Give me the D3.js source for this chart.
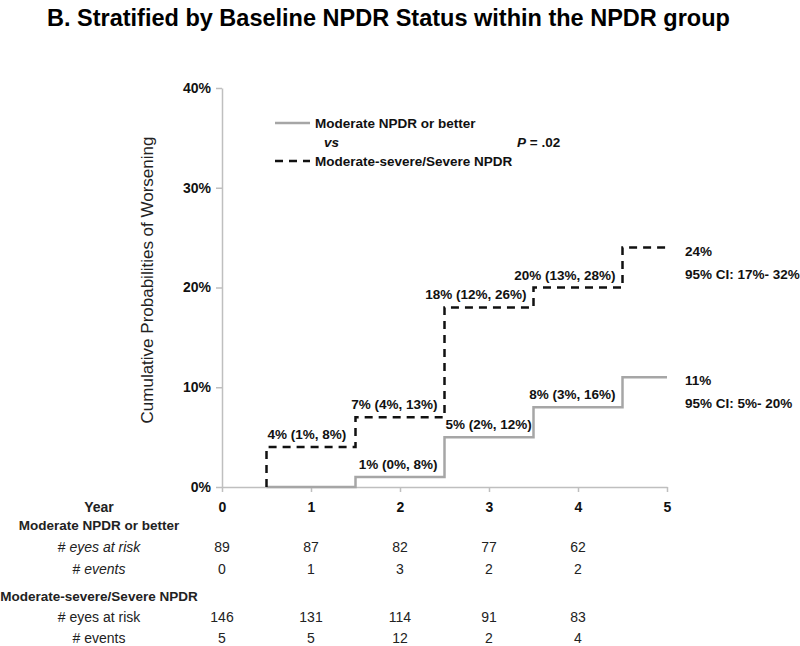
<!DOCTYPE html>
<html>
<head>
<meta charset="utf-8">
<style>
    body { margin: 0; background: white; }
    svg { display: block; font-family: "Liberation Sans", Arial, Helvetica, sans-serif; }
    .axis path, .axis line { stroke: #bfbfbf; stroke-width: 1.5; }
    .axis text { font-size: 14px; font-weight: bold; fill: #111; }
    .lbl { font-size: 13.5px; font-weight: bold; fill: #111; }
    .tbl { font-size: 14px; fill: #222; }
</style>
</head>
<body>
<svg width="800" height="646"></svg>

<script src="https://d3js.org/d3.v7.min.js"></script>
<script>
    // step times (years) where the curves jump
    let stepTimes = [0.5, 1.5, 2.5, 3.5, 4.5]

    // Moderate NPDR or better (solid)
    let modEst = [0, 1, 5, 8, 11]
    let modLow = [0, 0, 2, 3, 5]
    let modHigh = [0, 8, 12, 16, 20]

    // Moderate-severe/Severe NPDR (dashed)
    let sevEst = [4, 7, 18, 20, 24]
    let sevLow = [1, 4, 12, 13, 17]
    let sevHigh = [8, 13, 26, 28, 32]

    let years = [0, 1, 2, 3, 4, 5]
    let yTicks = [0, 0.1, 0.2, 0.3, 0.4]

    // numbers at risk table
    let modAtRisk = [89, 87, 82, 77, 62]
    let modEvents = [0, 1, 3, 2, 2]
    let sevAtRisk = [146, 131, 114, 91, 83]
    let sevEvents = [5, 5, 12, 2, 4]

    let svg = d3.select("svg")

    let x = d3.scaleLinear().domain([0, 5]).range([222, 667])
    let y = d3.scaleLinear().domain([0, 0.4]).range([487, 88])

    // title
    svg.append("text")
        .attr("x", 47).attr("y", 26)
        .style("font-size", "23.5px").style("font-weight", "bold")
        .text("B. Stratified by Baseline NPDR Status within the NPDR group")

    // axes
    svg.append("g")
        .attr("class", "axis")
        .attr("transform", "translate(222,0)")
        .call(d3.axisLeft(y).tickValues(yTicks).tickFormat(d3.format(".0%")).tickSize(6).tickSizeOuter(0).tickPadding(5))

    svg.append("g")
        .attr("class", "axis")
        .attr("transform", "translate(0,487)")
        .call(d3.axisBottom(x).tickValues(years).tickFormat(d3.format("d")).tickSize(5).tickSizeOuter(0).tickPadding(10))

    svg.append("text")
        .attr("transform", "translate(153,280) rotate(-90)")
        .attr("text-anchor", "middle")
        .style("font-size", "17px").style("fill", "#222")
        .text("Cumulative Probabilities of Worsening")

    // build step points: start at 0 at first time, finish at year 5
    function stepPoints(est) {
        let pts = [[stepTimes[0], 0]]
        est.forEach((v, i) => pts.push([stepTimes[i], v / 100]))
        pts.push([5, est[est.length - 1] / 100])
        return pts
    }

    let line = d3.line()
        .x(d => x(d[0]))
        .y(d => y(d[1]))
        .curve(d3.curveStepAfter)

    svg.append("path")
        .attr("d", line(stepPoints(modEst)))
        .style("fill", "none")
        .style("stroke", "#a6a6a6")
        .style("stroke-width", 2.5)

    svg.append("path")
        .attr("d", line(stepPoints(sevEst)))
        .style("fill", "none")
        .style("stroke", "#111")
        .style("stroke-width", 2.5)
        .style("stroke-dasharray", "8,6")

    // step labels
    let fmt = (e, l, h) => e + "% (" + l + "%, " + h + "%)"
    let sevAnchor = ["start", "end", "end", "end"]
    let modAnchor = [null, "end", "start", "end"]

    function stepLabels(est, low, high, anchors) {
        anchors.forEach((a, i) => {
            if (!a) return
            let xp = a == "start" ? x(stepTimes[i]) + 1 : x(stepTimes[i + 1]) - 7
            svg.append("text")
                .attr("class", "lbl")
                .attr("x", xp)
                .attr("y", y(est[i] / 100) - 8)
                .attr("text-anchor", a)
                .text(fmt(est[i], low[i], high[i]))
        })
        // final estimate with CI, to the right of the curve end
        let last = est.length - 1
        let g = svg.append("text").attr("class", "lbl")
            .attr("x", 685).attr("y", y(est[last] / 100) + 8)
        g.append("tspan").text(est[last] + "%")
        g.append("tspan").attr("x", 685).attr("dy", 23)
            .text("95% CI: " + low[last] + "%- " + high[last] + "%")
    }
    stepLabels(sevEst, sevLow, sevHigh, sevAnchor)
    stepLabels(modEst, modLow, modHigh, modAnchor)

    // legend
    svg.append("line")
        .attr("x1", 275).attr("x2", 310).attr("y1", 123).attr("y2", 123)
        .style("stroke", "#a6a6a6").style("stroke-width", 2.5)
    svg.append("line")
        .attr("x1", 275).attr("x2", 310).attr("y1", 161).attr("y2", 161)
        .style("stroke", "#111").style("stroke-width", 2.5).style("stroke-dasharray", "8,6")
    svg.append("text").attr("class", "lbl").attr("x", 315).attr("y", 128).text("Moderate NPDR or better")
    svg.append("text").attr("class", "lbl").attr("x", 324).attr("y", 147)
        .style("font-style", "italic").text("vs")
    svg.append("text").attr("class", "lbl").attr("x", 315).attr("y", 166).text("Moderate-severe/Severe NPDR")
    let p = svg.append("text").attr("class", "lbl").attr("x", 517).attr("y", 147)
    p.append("tspan").style("font-style", "italic").text("P")
    p.append("tspan").text(" = .02")

    // number at risk table
    let labX = 99
    svg.append("text").attr("class", "tbl").attr("x", labX).attr("y", 512)
        .attr("text-anchor", "middle").style("font-weight", "bold").text("Year")
    svg.append("text").attr("class", "tbl").attr("x", labX).attr("y", 530)
        .attr("text-anchor", "middle").style("font-weight", "bold").style("font-size", "13.5px")
        .text("Moderate NPDR or better")
    svg.append("text").attr("class", "tbl").attr("x", labX).attr("y", 601)
        .attr("text-anchor", "middle").style("font-weight", "bold").style("font-size", "13.5px")
        .text("Moderate-severe/Severe NPDR")

    function rowLabel(txt, yy, italic) {
        let t = svg.append("text").attr("class", "tbl").attr("x", labX).attr("y", yy).attr("text-anchor", "middle")
        t.append("tspan").text("# ")
        t.append("tspan").style("font-style", italic ? "italic" : "normal").text(txt)
    }
    rowLabel("eyes at risk", 552, true)
    rowLabel("events", 574, true)
    rowLabel("eyes at risk", 622, false)
    rowLabel("events", 643, false)

    function row(vals, yy) {
        svg.selectAll(null)
            .data(vals)
            .join("text")
            .attr("class", "tbl")
            .attr("x", (d, i) => x(years[i]))
            .attr("y", yy)
            .attr("text-anchor", "middle")
            .text(d => d)
    }
    row(modAtRisk, 552)
    row(modEvents, 574)
    row(sevAtRisk, 622)
    row(sevEvents, 643)
</script>
</body>
</html>
